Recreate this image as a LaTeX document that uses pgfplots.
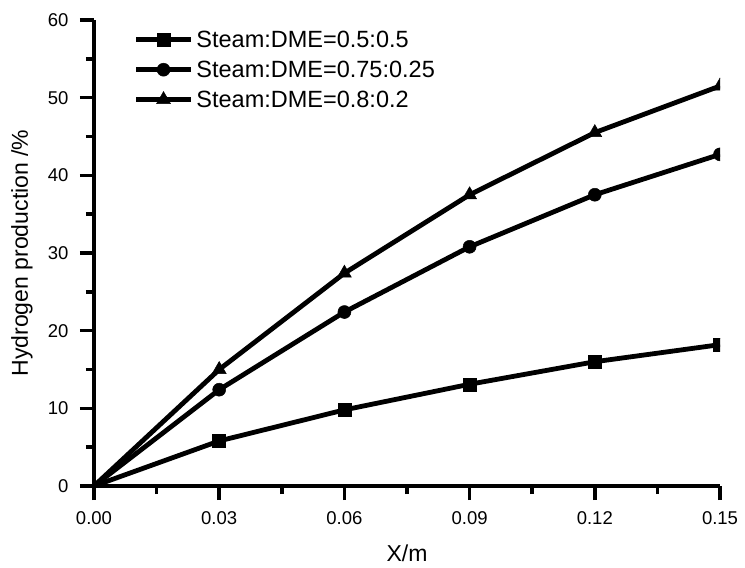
\documentclass[border=0pt]{standalone}
\usepackage{fontspec}
\setmainfont{Liberation Sans}
\usepackage{pgfplots}
\pgfplotsset{compat=1.18}
\begin{document}
\begin{tikzpicture}
\path[use as bounding box] (-94bp,-82bp) rectangle (651bp,486bp);
\begin{axis}[
  at={(0,0)}, anchor=south west,
  scale only axis,
  width=626bp, height=466bp,
  xmin=0, xmax=0.15, ymin=0, ymax=60,
  axis x line*=bottom, axis y line*=left,
  axis line style={-, line width=4bp},
  xtick={0,0.03,0.06,0.09,0.12,0.15},
  xticklabels={0.00,0.03,0.06,0.09,0.12,0.15},
  ytick={0,10,20,30,40,50,60},
  minor x tick num=1, minor y tick num=1,
  xtick align=outside, ytick align=outside,
  major tick length=14bp, minor tick length=8bp,
  major tick style={line width=3.5bp, black},
  minor tick style={line width=3.5bp, black},
  ticklabel style={font=\fontsize{18.5bp}{22bp}\selectfont},
  xticklabel style={yshift=-8bp},
  yticklabel style={xshift=-8bp},
  label style={font=\fontsize{23bp}{27bp}\selectfont},
  xlabel={X/m},
  ylabel={Hydrogen production /\%},
  xlabel style={at={(axis description cs:0.5,-0.1438)}, anchor=center},
  ylabel style={at={(axis description cs:-0.115,0.5)}, anchor=center},
  clip marker paths=true,
  legend style={draw=none, fill=none, inner sep=0pt,
    at={(axis description cs:0.063,0.99)}, anchor=north west,
    font=\fontsize{23.5bp}{27bp}\selectfont,
    nodes={inner ysep=6bp, inner xsep=3bp},
    row sep=0pt},
  legend cell align=left,
  legend image code/.code={
    \draw[#1, mark indices={2}] plot coordinates {(0bp,0bp) (27.5bp,0bp) (55bp,0bp)};
  },
  /pgf/number format/assume math mode=true,
]
\addplot[black, line width=4.8bp, mark=square*, mark size=6.5bp, mark options={solid, fill=black, line width=0.5bp}, mark indices={2,3,4,5,6}]
  coordinates {(0,0) (0.03,5.8) (0.06,9.8) (0.09,13.1) (0.12,16.0) (0.15,18.2)};
\addlegendentry{Steam:DME=0.5:0.5}
\addplot[black, line width=4.8bp, mark=*, mark size=6.5bp, mark options={solid, fill=black, line width=0.5bp}, mark indices={2,3,4,5,6}]
  coordinates {(0,0) (0.03,12.4) (0.06,22.4) (0.09,30.8) (0.12,37.5) (0.15,42.7)};
\addlegendentry{Steam:DME=0.75:0.25}
\addplot[black, line width=4.8bp, mark=triangle*, mark size=8bp, mark options={solid, fill=black, line width=0.5bp}, mark indices={2,3,4,5,6}]
  coordinates {(0,0) (0.03,15.0) (0.06,27.4) (0.09,37.5) (0.12,45.5) (0.15,51.5)};
\addlegendentry{Steam:DME=0.8:0.2}
\end{axis}
\end{tikzpicture}
\end{document}
